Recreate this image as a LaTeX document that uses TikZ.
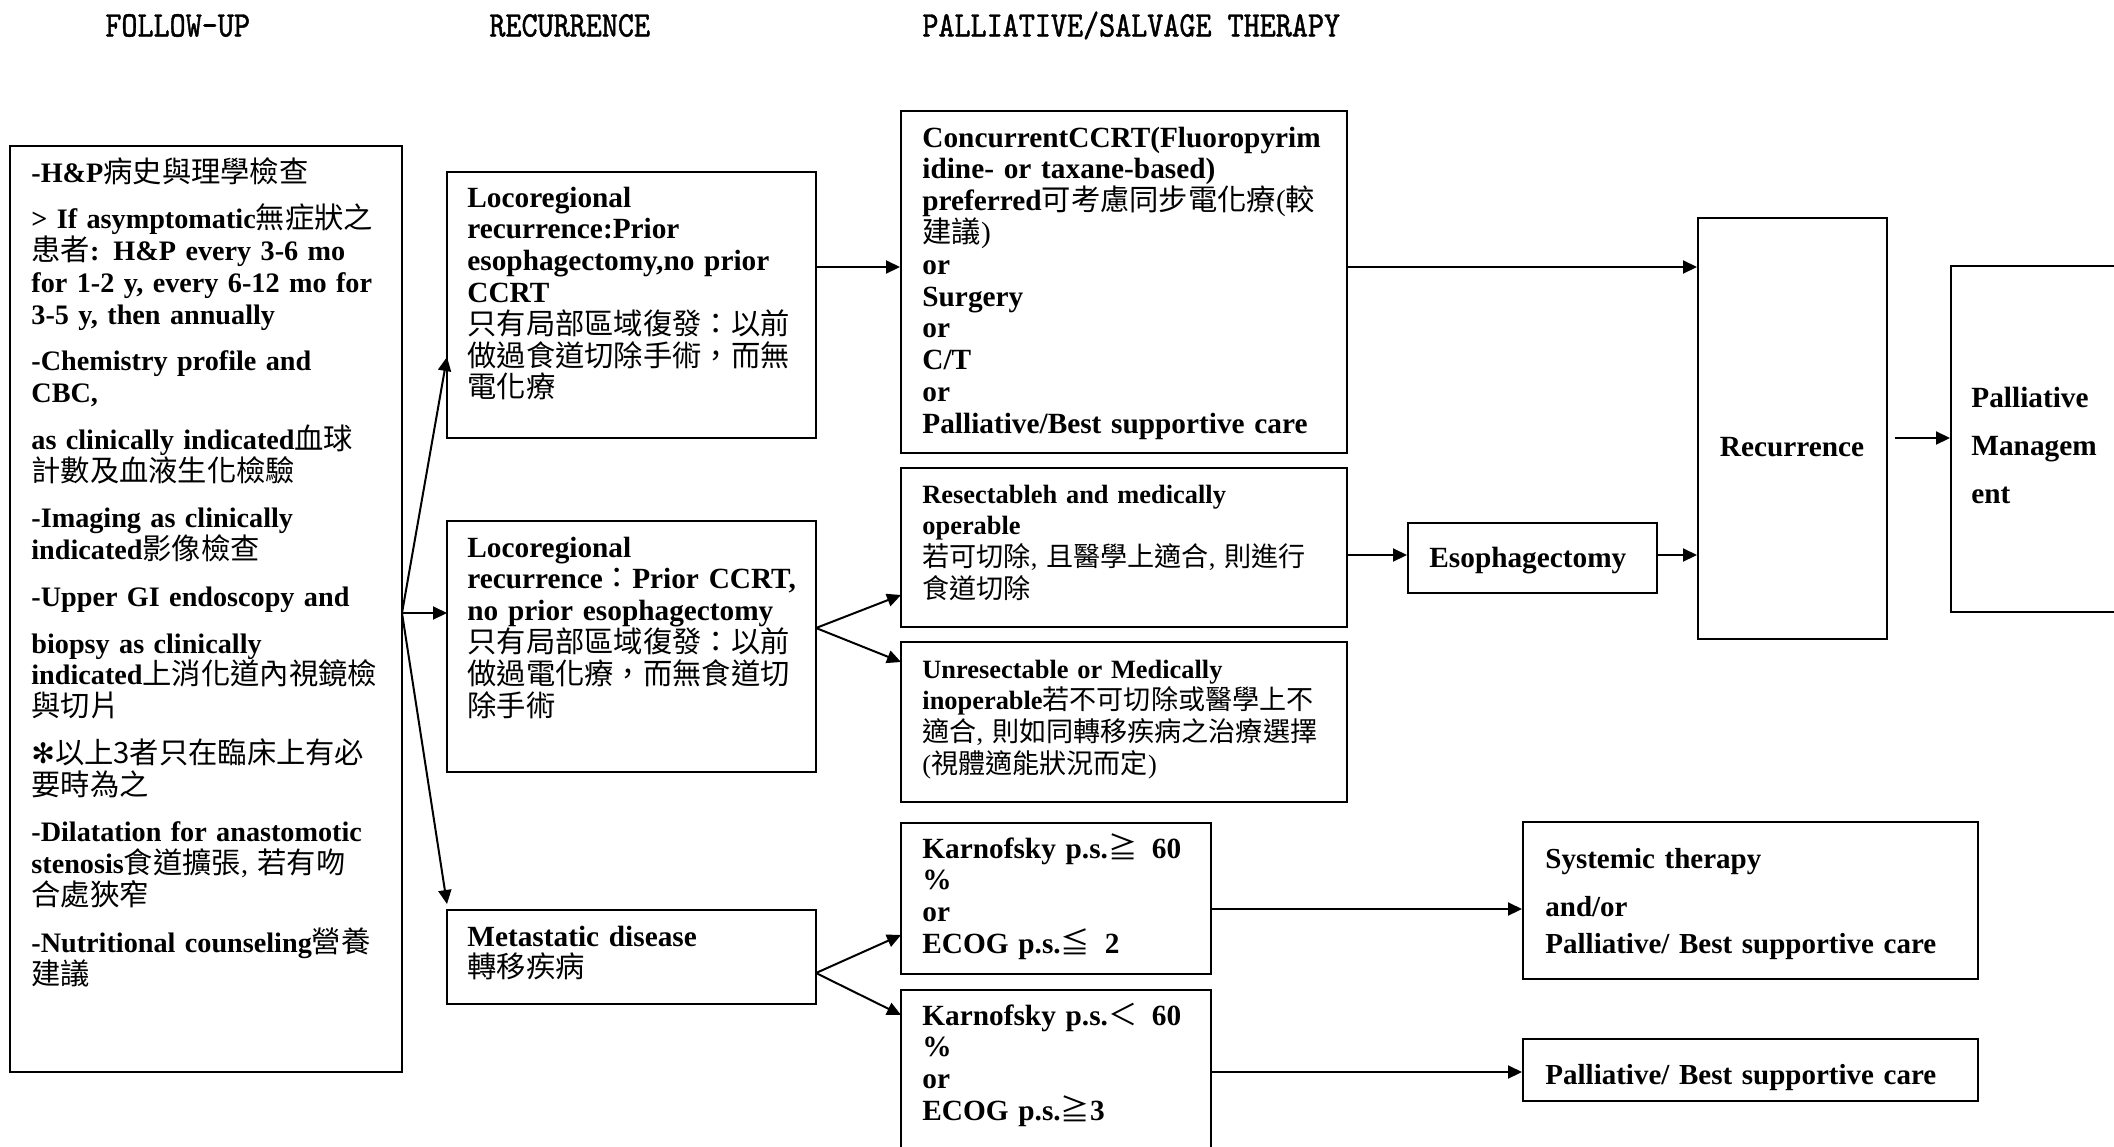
\documentclass[tikz,border=0pt]{standalone}
\usepackage{fontspec}
\setmainfont{Liberation Serif}
\newfontfamily\cjkfont{Noto Sans CJK TC}
\newfontfamily\symfont{DejaVu Sans}
\newfontfamily\hdrfont{lmmono10-regular.otf}[FakeStretch=0.85,FakeBold=1.2]
\usetikzlibrary{arrows.meta}
\def\cjksize{14.65pt}
\newcommand\zh[1]{{\cjkfont\mdseries\fontsize{\cjksize}{15.9pt}\selectfont #1}}
\newcommand\cm{{\mdseries, }}
\newcommand\bodyfont{\fontsize{14.65pt}{15.9pt}\selectfont\bfseries\lineskiplimit=-50pt\relax}
\newcommand\fufont{\fontsize{14.1pt}{15.9pt}\selectfont\bfseries\lineskiplimit=-50pt\relax}
\newcommand\smallbodyfont{\fontsize{13.2pt}{15.9pt}\selectfont\bfseries\lineskiplimit=-50pt\def\cjksize{13.55pt}\relax}
\newcommand\mkbox[5]{%
  \pgfmathsetmacro\mybw{(#4-#2)*0.5}%
  \pgfmathsetmacro\mybh{(#5-#3)*0.5}%
  \node[box, minimum width=\mybw pt, minimum height=\mybh pt] (#1) at ({(#2+#4)/2},{(#3+#5)/2}) {};}
\tikzset{
  box/.style={draw, line width=1pt, inner sep=0pt, rectangle},
  txt/.style={anchor=base west, inner sep=0pt, align=left, text width=260pt, font=\bodyfont},
  arr/.style={line width=1pt, -{Triangle[length=7pt,width=6.5pt]}},
  hdr/.style={anchor=base west, inner sep=0pt, font=\hdrfont\fontsize{18pt}{20pt}\selectfont},
}
\begin{document}
\begin{tikzpicture}[x=0.5pt,y=-0.5pt]
\fill[white] (0,0) rectangle (2114,1146);
\useasboundingbox (0,0) rectangle (2114,1146);

% headers
\node[hdr] (h1) at (105,36.5) {FOLLOW-UP};
\node[hdr] (h2) at (489,36.5) {RECURRENCE};
\node[hdr] (h3) at (922,36.5) {PALLIATIVE/SALVAGE THERAPY};

% boxes
\mkbox{fu}{10}{146}{402}{1072}
\mkbox{lr1}{447}{172}{816}{438}
\mkbox{lr2}{447}{521}{816}{772}
\mkbox{met}{447}{910}{816}{1004}
\mkbox{ccrt}{901}{111}{1347}{453}
\mkbox{res}{901}{468}{1347}{627}
\mkbox{unres}{901}{642}{1347}{802}
\mkbox{kg}{901}{823}{1211}{974}
\mkbox{kl}{901}{990}{1211}{1170}
\mkbox{eso}{1408}{523}{1657}{593}
\mkbox{rec}{1698}{218}{1887}{639}
\mkbox{pm}{1951}{266}{2150}{612}
\mkbox{sys}{1523}{822}{1978}{979}
\mkbox{bsc}{1523}{1039}{1978}{1101}

% texts
\node[txt, font=\fufont] (fut) at (31,182) {-H\&P\zh{病史與理學檢查}\\[7.46pt]
> If asymptomatic\zh{無症狀之}\\
\zh{患者}: H\&P every 3-6 mo\\
for 1-2 y, every 6-12 mo for\\
3-5 y, then annually\\[7.46pt]
-Chemistry profile and\\
CBC,\\[7.46pt]
as clinically indicated\zh{血球}\\
\zh{計數及血液生化檢驗}\\[7.46pt]
-Imaging as clinically\\
indicated\zh{影像檢查}\\[7.46pt]
-Upper GI endoscopy and\\[7.46pt]
biopsy as clinically\\
indicated\zh{上消化道內視鏡檢}\\
\zh{與切片}\\[7.46pt]
{\symfont\mdseries ✻}\zh{以上3者只在臨床上有必}\\
\zh{要時為之}\\[7.46pt]
-Dilatation for anastomotic\\
stenosis\zh{食道擴張}\cm\zh{若有吻}\\
\zh{合處狹窄}\\[7.46pt]
-Nutritional counseling\zh{營養}\\
\zh{建議}};

\node[txt] (lr1t) at (467,207) {Locoregional\\
recurrence:Prior\\
esophagectomy,no prior\\
CCRT\\
\zh{只有局部區域復發：以前}\\
\zh{做過食道切除手術，而無}\\
\zh{電化療}};

\node[txt] (lr2t) at (467,557) {Locoregional\\
recurrence\zh{：}Prior CCRT,\\
no prior esophagectomy\\
\zh{只有局部區域復發：以前}\\
\zh{做過電化療，而無食道切}\\
\zh{除手術}};

\node[txt] (mett) at (467,946) {Metastatic disease\\
\zh{轉移疾病}};

\node[txt] (ccrtt) at (922,147) {ConcurrentCCRT(Fluoropyrim\\
idine- or taxane-based)\\
preferred\zh{可考慮同步電化療}{\mdseries(}\zh{較}\\
\zh{建議}{\mdseries)}\\
or\\
Surgery\\
or\\
C/T\\
or\\
Palliative/Best supportive care};

\node[txt, font=\smallbodyfont] (rest) at (922,503) {Resectableh and medically\\
operable\\
\zh{若可切除}\cm\zh{且醫學上適合}\cm\zh{則進行}\\
\zh{食道切除}};

\node[txt, font=\smallbodyfont] (unrest) at (922,678) {Unresectable or Medically\\
inoperable\zh{若不可切除或醫學上不}\\
\zh{適合}\cm\zh{則如同轉移疾病之治療選擇}\\
{\mdseries(}\zh{視體適能狀況而定}{\mdseries)}};

\node[txt] (kgt) at (922,858) {Karnofsky p.s.\zh{≧}\ \,60\\
\%\\
or\\
ECOG p.s.\zh{≦}\ \,2};

\node[txt] (klt) at (922,1025) {Karnofsky p.s.\zh{＜}\ \,60\\
\%\\
or\\
ECOG p.s.\zh{≧}3};

\node[txt] (esot) at (1429,567) {Esophagectomy};
\node[anchor=base, inner sep=0pt, font=\bodyfont] (rect) at (1792,456) {Recurrence};
\node[txt, font=\fontsize{14.65pt}{24pt}\selectfont\bfseries] (pmt) at (1971,407) {Palliative\\
Managem\\
ent};
\node[txt, font=\fontsize{14.5pt}{18.5pt}\selectfont\bfseries] (syst) at (1545,868) {Systemic therapy\\[5.5pt]
and/or\\
Palliative/ Best supportive care};
\node[txt, font=\fontsize{14.5pt}{15.9pt}\selectfont\bfseries] (bsct) at (1545,1084) {Palliative/ Best supportive care};

% connector points
\coordinate (fanF) at (402,613);
\coordinate (tA) at (447,357);
\coordinate (tB) at (447,613);
\coordinate (tC) at (447,904);
\coordinate (fanL) at (816,628);
\coordinate (tRes) at (901,595);
\coordinate (tUnres) at (901,662);
\coordinate (fanM) at (816,973);
\coordinate (tKg) at (901,935);
\coordinate (tKl) at (901,1015);

\draw[arr] (fanF) -- (tA);
\draw[arr] (fanF) -- (tB);
\draw[arr] (fanF) -- (tC);
\draw[arr] (fanL) -- (tRes);
\draw[arr] (fanL) -- (tUnres);
\draw[arr] (fanM) -- (tKg);
\draw[arr] (fanM) -- (tKl);

\draw[arr] (lr1.east |- 0,267) -- (ccrt.west |- 0,267);
\draw[arr] (ccrt.east |- 0,267) -- (rec.west |- 0,267);
\draw[arr] (res.east |- 0,555) -- (eso.west |- 0,555);
\draw[arr] (eso.east |- 0,555) -- (rec.west |- 0,555);
\coordinate (recOut) at (1895,438);
\draw[arr] (recOut) -- (pm.west |- recOut);
\draw[arr] (kg.east |- 0,909) -- (sys.west |- 0,909);
\draw[arr] (kl.east |- 0,1072) -- (bsc.west |- 0,1072);
\end{tikzpicture}
\end{document}
